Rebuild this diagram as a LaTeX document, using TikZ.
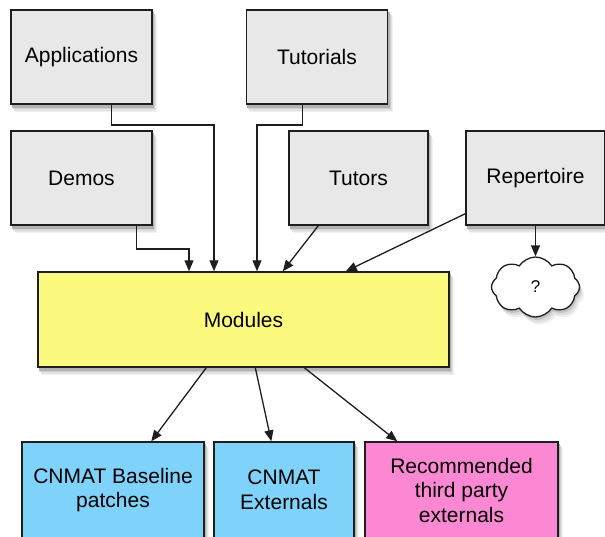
\documentclass[tikz,border=0pt]{standalone}
\usepackage{fontspec}
\setmainfont{Liberation Sans}
\usetikzlibrary{arrows.meta,shapes.symbols}
\definecolor{boxgray}{HTML}{E8E8E8}
\definecolor{modyellow}{HTML}{FCFA7E}
\definecolor{libblue}{HTML}{7FD3FA}
\definecolor{libpink}{HTML}{FC88D4}
\definecolor{edgeblack}{HTML}{1E1E1E}
\pgfdeclarelayer{shadowlayer}
\pgfsetlayers{shadowlayer,main}
\newcommand{\boxshade}[1]{%
  \fill[black!5] ([shift={(4.5,7.5)}]#1.north west) rectangle ([shift={(4.5,7.5)}]#1.south east);
  \fill[black!11] ([shift={(3.5,6)}]#1.north west) rectangle ([shift={(3.5,6)}]#1.south east);
  \fill[black!19] ([shift={(2.5,4.5)}]#1.north west) rectangle ([shift={(2.5,4.5)}]#1.south east);
  \fill[black!30] ([shift={(1.5,3)}]#1.north west) rectangle ([shift={(1.5,3)}]#1.south east);}
\tikzset{
  box/.style={draw=edgeblack, line width=1.4pt, rectangle, inner sep=0pt,
    align=center, font=\fontsize{21}{24.5}\selectfont},
  graybox/.style={box, fill=boxgray, minimum width=141pt, minimum height=94pt},
  cloudshape/.style={cloud, cloud puffs=8, cloud puff arc=115, aspect=1.55,
    inner sep=0pt, minimum width=88pt, minimum height=60pt},
  arr/.style={draw=edgeblack, line width=1.3pt, -{Triangle[length=11pt,width=9pt]}},
}
\begin{document}
\begin{tikzpicture}[x=1pt,y=-1pt]
\useasboundingbox (0,0) rectangle (605,536);
\begin{scope}
\clip (0,0) rectangle (605,536);
% top row
\node[graybox] (app) at (81.5,57) {Applications};
\node[graybox] (tut) at (317,57) {Tutorials};
% second row
\node[graybox] (demo) at (81.5,178) {Demos};
\node[graybox, minimum width=139pt] (tutor) at (358.5,178) {Tutors};
\node[graybox, minimum width=139pt] (rep) at (535.5,178) {Repertoire};
% cloud
\node[cloudshape, draw=edgeblack, line width=1.3pt, fill=white,
      font=\fontsize{17}{20}\selectfont] (q) at (535.5,287) {?};
% modules
\node[box, fill=modyellow, minimum width=411pt, minimum height=95pt] (mod) at (243.5,319.5) {Modules};
% bottom row
\node[box, fill=libblue, minimum width=182pt, minimum height=96pt] (base) at (113,490) {CNMAT Baseline\\patches};
\node[box, fill=libblue, minimum width=140pt, minimum height=96pt] (ext) at (284,490) {CNMAT\\Externals};
\node[box, fill=libpink, minimum width=193pt, minimum height=96pt] (rec) at (461.5,490) {Recommended\\third party\\externals};
% shadows
\begin{pgfonlayer}{shadowlayer}
  \boxshade{app}\boxshade{tut}\boxshade{demo}\boxshade{tutor}\boxshade{rep}
  \boxshade{mod}\boxshade{base}\boxshade{ext}\boxshade{rec}
  \node[cloudshape, fill=black!6] (qs1) at ([shift={(4.5,7.5)}]q.center) {};
  \node[cloudshape, fill=black!13] (qs2) at ([shift={(3,5.5)}]q.center) {};
  \node[cloudshape, fill=black!24] (qs3) at ([shift={(1.5,3)}]q.center) {};
\end{pgfonlayer}
% connectors
\coordinate (appTurn) at (214,125);
\coordinate (tutTurn) at (257,125);
\coordinate (demoTurn) at (189,249);
\draw[arr] ([xshift=101pt]app.south west) |- (appTurn) -- (mod.north -| appTurn);
\draw[arr] ([xshift=57pt]tut.south west) |- (tutTurn) -- (mod.north -| tutTurn);
\draw[arr] ([xshift=126pt]demo.south west) |- (demoTurn) -- (mod.north -| demoTurn);
\draw[arr] ([xshift=30pt]tutor.south west) -- ([xshift=245.5pt]mod.north west);
\draw[arr] ([yshift=12pt]rep.south west) -- ([xshift=308.5pt]mod.north west);
\draw[arr] (rep.south -| q.north) -- (q.north);
\draw[arr] ([xshift=169pt]mod.south west) -- ([xshift=130pt]base.north west);
\draw[arr] ([xshift=218pt]mod.south west) -- ([xshift=58pt]ext.north west);
\draw[arr] ([xshift=267pt]mod.south west) -- ([xshift=33pt]rec.north west);
\end{scope}
\end{tikzpicture}
\end{document}
